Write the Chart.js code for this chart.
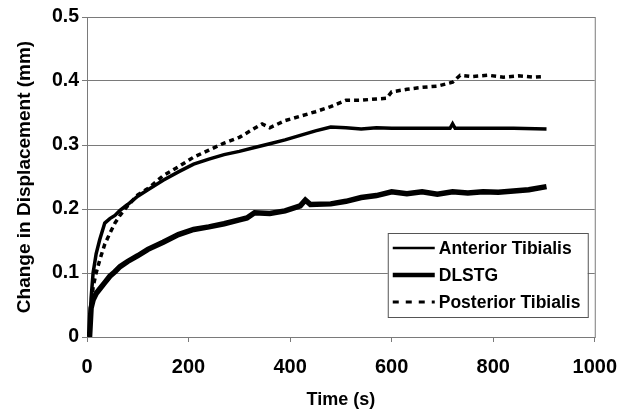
<!DOCTYPE html>
<html>
<head>
<meta charset="utf-8">
<script src="https://cdn.jsdelivr.net/npm/chart.js@4.4.0/dist/chart.umd.min.js"></script>
<style>
  html, body { margin: 0; padding: 0; background: #fff; }
  #wrap { width: 630px; height: 415px; }
</style>
</head>
<body>
<div id="wrap"><canvas id="dispChart" width="630" height="415"></canvas></div>
<script>
// series (time in s, displacement in mm)
const antTime = [5, 8, 12, 18, 25, 35, 45, 55, 65, 80, 100, 120, 150, 180, 210, 240, 270, 300, 330, 360, 390, 420, 450, 480, 510, 540, 570, 600, 660, 715, 720, 725, 780, 840, 905];
const antDisp = [0, 0.06, 0.10, 0.13, 0.152, 0.178, 0.185, 0.19, 0.198, 0.207, 0.22, 0.23, 0.245, 0.258, 0.27, 0.278, 0.285, 0.29, 0.296, 0.302, 0.308, 0.315, 0.322, 0.328, 0.327, 0.325, 0.327, 0.326, 0.326, 0.326, 0.333, 0.326, 0.326, 0.326, 0.325];

const dlTime = [5, 8, 12, 18, 25, 35, 45, 55, 65, 80, 100, 120, 150, 180, 210, 240, 270, 300, 315, 330, 360, 390, 420, 430, 440, 480, 510, 540, 570, 600, 630, 660, 690, 720, 750, 780, 810, 840, 870, 905];
const dlDisp = [0, 0.045, 0.058, 0.068, 0.075, 0.085, 0.095, 0.102, 0.11, 0.118, 0.127, 0.137, 0.148, 0.16, 0.168, 0.172, 0.177, 0.183, 0.186, 0.194, 0.193, 0.197, 0.205, 0.214, 0.207, 0.208, 0.212, 0.218, 0.221, 0.227, 0.224, 0.227, 0.223, 0.227, 0.225, 0.227, 0.226, 0.228, 0.23, 0.235];

const postTime = [5, 8, 12, 18, 25, 35, 45, 55, 65, 80, 100, 120, 150, 180, 210, 240, 270, 300, 330, 345, 360, 390, 420, 450, 480, 510, 540, 570, 590, 600, 630, 660, 690, 720, 735, 760, 790, 820, 850, 880, 900];
const postDisp = [0, 0.04, 0.078, 0.10, 0.12, 0.145, 0.162, 0.178, 0.19, 0.205, 0.222, 0.232, 0.252, 0.266, 0.281, 0.292, 0.303, 0.312, 0.326, 0.333, 0.327, 0.338, 0.345, 0.352, 0.36, 0.37, 0.37, 0.372, 0.373, 0.383, 0.387, 0.39, 0.392, 0.398, 0.409, 0.407, 0.409, 0.406, 0.408, 0.406, 0.407];

const seriesNames = ['Anterior Tibialis', 'DLSTG', 'Posterior Tibialis'];
const xTicks = [0, 200, 400, 600, 800, 1000];
const yTicks = [0, 0.1, 0.2, 0.3, 0.4, 0.5];

const toPoints = (xs, ys) => xs.map((x, i) => ({ x: x, y: ys[i] }));

const FONT = '"Liberation Sans", Arial, sans-serif';
const GRID = '#7a7a7a';

// box around the plot area
const frame = {
  id: 'frame',
  beforeDatasetsDraw(chart) {
    const { ctx, chartArea: a } = chart;
    ctx.save();
    ctx.strokeStyle = GRID;
    ctx.lineWidth = 1;
    ctx.strokeRect(a.left + 0.5, a.top + 0.5, a.right - a.left, a.bottom - a.top);
    ctx.restore();
  }
};

// legend box inside the lower right of the plot
const boxLegend = {
  id: 'boxLegend',
  afterDatasetsDraw(chart) {
    const { ctx, chartArea: a } = chart;
    const w = 200, h = 84;
    const x0 = a.right - 7 - w, y0 = a.bottom - 20 - h;
    ctx.save();
    ctx.fillStyle = '#fff';
    ctx.fillRect(x0, y0, w, h);
    ctx.strokeStyle = '#555';
    ctx.lineWidth = 1;
    ctx.strokeRect(x0 + 0.5, y0 + 0.5, w, h);
    const sampleW = [2.5, 4.5, 3];
    [0, 1, 2].forEach((di, row) => {
      const ds = chart.data.datasets[di];
      const cy = y0 + 15 + row * 27;
      ctx.beginPath();
      ctx.strokeStyle = '#000';
      ctx.lineWidth = sampleW[row];
      ctx.setLineDash(di === 2 ? [6, 7] : []);
      ctx.moveTo(x0 + 5, cy);
      ctx.lineTo(x0 + 47, cy);
      ctx.stroke();
      ctx.setLineDash([]);
      ctx.fillStyle = '#000';
      ctx.font = 'bold 17.5px ' + FONT;
      ctx.textBaseline = 'middle';
      ctx.fillText(ds.label, x0 + 51, cy + 1);
    });
    ctx.restore();
  }
};

const chart = new Chart(document.getElementById('dispChart').getContext('2d'), {
  type: 'line',
  data: {
    datasets: [
      {
        label: seriesNames[0],
        data: toPoints(antTime, antDisp),
        borderColor: '#000',
        borderWidth: 3.5,
        pointRadius: 0,
        tension: 0,
        order: 2
      },
      {
        label: seriesNames[1],
        data: toPoints(dlTime, dlDisp),
        borderColor: '#000',
        borderWidth: 5.5,
        pointRadius: 0,
        tension: 0,
        order: 3
      },
      {
        label: seriesNames[2],
        data: toPoints(postTime, postDisp),
        borderColor: '#000',
        borderWidth: 3.5,
        borderDash: [5, 4],
        pointRadius: 0,
        tension: 0,
        order: 1
      }
    ]
  },
  options: {
    responsive: false,
    animation: false,
    layout: { padding: { left: 0, right: 30, top: 17, bottom: 0 } },
    plugins: {
      legend: { display: false },
      tooltip: { enabled: false }
    },
    scales: {
      x: {
        type: 'linear',
        min: 0,
        max: 1000,
        afterBuildTicks: s => { s.ticks = xTicks.map(v => ({ value: v })); },
        afterFit: s => { s.height = 78; },
        border: { display: true, color: '#333', width: 1 },
        grid: { drawOnChartArea: false, color: GRID, tickLength: 5 },
        ticks: {
          color: '#000',
          padding: 13,
          maxRotation: 0,
          font: { family: FONT, size: 20, weight: 'bold' },
          callback: v => String(v)
        },
        title: {
          display: true,
          text: 'Time (s)',
          color: '#000',
          padding: { top: 0, bottom: 4 },
          font: { family: FONT, size: 18, weight: 'bold' }
        }
      },
      y: {
        min: 0,
        max: 0.5,
        afterBuildTicks: s => { s.ticks = yTicks.map(v => ({ value: v })); },
        afterFit: s => { s.width = 87; },
        border: { display: true, color: '#333', width: 1 },
        grid: { color: GRID, tickLength: 5 },
        ticks: {
          color: '#000',
          padding: 3,
          font: { family: FONT, size: 19.5, weight: 'bold' },
          callback: v => String(Math.round(v * 10) / 10)
        },
        title: {
          display: true,
          text: 'Change in Displacement (mm)',
          color: '#000',
          padding: { top: 13, bottom: 0 },
          font: { family: FONT, size: 19, weight: 'bold' }
        }
      }
    }
  },
  plugins: [frame, boxLegend]
});
</script>
</body>
</html>
